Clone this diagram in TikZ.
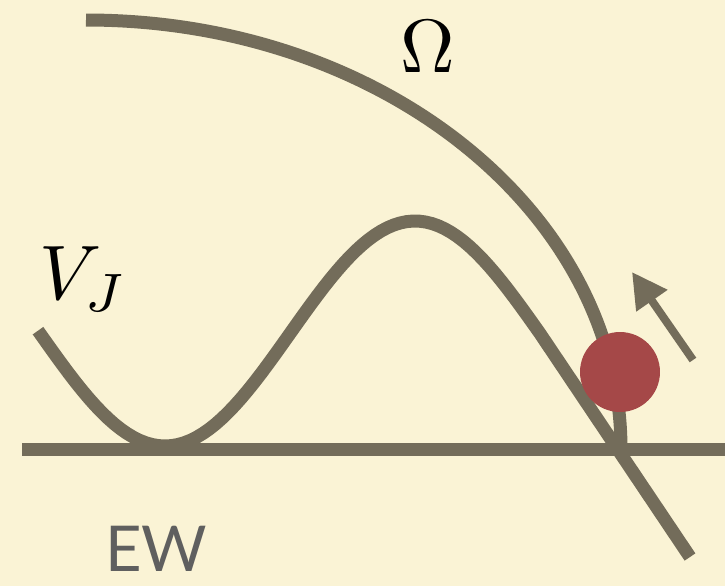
\documentclass[tikz,border=0pt]{standalone}
\usepackage{fontspec}
\newfontfamily\ewfont{Lato}
\usepackage{xcolor}
\usetikzlibrary{arrows.meta}

\definecolor{paper}{RGB}{250,243,213}
\definecolor{ink}{RGB}{115,108,90}
\definecolor{ballred}{RGB}{165,72,72}
\definecolor{ewgray}{RGB}{95,95,95}

\begin{document}
\begin{tikzpicture}[
x=0.02cm, y=-0.02cm,
curve/.style={draw=ink, line width=0.26cm},
ball/.style={circle, fill=ballred, minimum size=1.6cm, inner sep=0pt},
push/.style={draw=ink, line width=0.16cm, -{Triangle[length=0.7cm, width=0.72cm]}},
lbl/.style={inner sep=0pt}
]
\useasboundingbox (0,0) rectangle (725,586);
\fill[paper] (0,0) rectangle (725,586);
% boundary of the region
\draw[curve] (86,20) arc[start angle=-90, end angle=0, x radius=535, y radius=429] coordinate (foot);
% potential
\draw[curve] plot[domain=38:540, samples=80] (\x, {333.5+112.5*cos(0.72*(\x-165))}) -- (690,557);
\draw[curve] (22,449) -- (725,449);
\node[ball] (b) at (620,372) {};
\coordinate (tail) at (693,360);
\coordinate (tip) at (632,272);
\draw[push] (tail) -- (tip);
\node[lbl, scale=4.3] (om) at (428,47) {$\Omega$};
\node[lbl, scale=4.4] (vj) at (84,279) {$V_J$};
\node[lbl, anchor=base west, text=ewgray, scale=3.6, font=\ewfont] (ew) at (104,571) {EW};
\end{tikzpicture}
\end{document}
